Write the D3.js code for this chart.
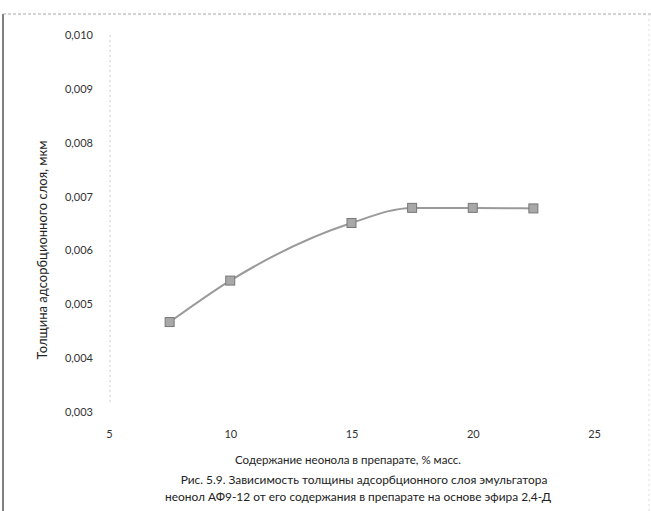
<!DOCTYPE html>
<html><head><meta charset="utf-8">
<script src="https://cdn.jsdelivr.net/npm/d3@7"></script>
<style>body{margin:0;background:#fff}svg{display:block}</style>
</head><body>
<script>
const contentPct = [7.5, 10, 15, 17.5, 20, 22.5];
const thickness = [0.00467, 0.00544, 0.00651, 0.00679, 0.00679, 0.00678];
const xTicks = [5, 10, 15, 20, 25];
const yTicks = [0.003, 0.004, 0.005, 0.006, 0.007, 0.008, 0.009, 0.010];
const yTitle = "Толщина адсорбционного слоя, мкм";
const xTitle = "Содержание неонола в препарате, % масс.";
const caption = ["Рис. 5.9. Зависимость толщины адсорбционного слоя эмульгатора",
                 "неонол АФ9-12 от его содержания в препарате на основе эфира 2,4-Д"];
const captionCenters = [364, 358];

const W = 651, H = 511;
const svg = d3.select("body").append("svg").attr("width", W).attr("height", H);
const font = "Lato, 'Open Sans', sans-serif";

// frame of the scanned page
svg.append("line").attr("x1", 3).attr("x2", 3).attr("y1", 14).attr("y2", H)
  .attr("stroke", "#555").attr("stroke-width", 1.5);
svg.append("line").attr("x1", 3).attr("x2", W).attr("y1", 14).attr("y2", 14)
  .attr("stroke", "#aaa").attr("stroke-width", 1).attr("stroke-dasharray", "3,2");
svg.append("line").attr("x1", 649).attr("x2", 649).attr("y1", 14).attr("y2", H)
  .attr("stroke", "#ddd").attr("stroke-width", 1).attr("stroke-dasharray", "2,3");

const x = d3.scaleLinear().domain([5, 25]).range([109, 594]);
const y = d3.scaleLinear().domain([0.003, 0.010]).range([412, 35]);

// faint y axis line
svg.append("line").attr("x1", 110).attr("x2", 110).attr("y1", y(0.010)).attr("y2", y(0.003) - 8)
  .attr("stroke", "#ccc").attr("stroke-width", 1).attr("stroke-dasharray", "2,3");

const fmt = d => d3.format(".3f")(d).replace(".", ",");
const yAxis = d3.axisLeft(y).tickValues(yTicks).tickFormat(fmt).tickSize(0).tickPadding(0);
const gy = svg.append("g").attr("transform", "translate(93,0)").call(yAxis);
gy.select(".domain").remove();
gy.selectAll("text").attr("font-family", font).attr("font-size", 11).attr("fill", "#333");

const xAxis = d3.axisBottom(x).tickValues(xTicks).tickFormat(d3.format("d")).tickSize(0).tickPadding(0);
const gx = svg.append("g").attr("transform", "translate(0,430)").call(xAxis);
gx.select(".domain").remove();
gx.selectAll("text").attr("font-family", font).attr("font-size", 11).attr("fill", "#333");

svg.append("text").attr("transform", "translate(47,250) rotate(-90)")
  .attr("text-anchor", "middle").attr("font-family", font).attr("font-size", 13)
  .attr("fill", "#222").text(yTitle);

svg.append("text").attr("x", 348).attr("y", 464).attr("text-anchor", "middle")
  .attr("font-family", font).attr("font-size", 11.5).attr("fill", "#222").text(xTitle);

caption.forEach((c, i) => {
  svg.append("text").attr("x", captionCenters[i]).attr("y", 484 + i * 17).attr("text-anchor", "middle")
    .attr("font-family", font).attr("font-size", 11.9).attr("fill", "#222").text(c);
});

const pts = contentPct.map((c, i) => [c, thickness[i]]);
const line = d3.line().x(d => x(d[0])).y(d => y(d[1])).curve(d3.curveMonotoneX);
svg.append("path").attr("d", line(pts)).attr("fill", "none")
  .attr("stroke", "#9a9a9a").attr("stroke-width", 2);

svg.selectAll("rect.m").data(pts).enter().append("rect").attr("class", "m")
  .attr("x", d => x(d[0]) - 4.5).attr("y", d => y(d[1]) - 4.5)
  .attr("width", 9).attr("height", 9)
  .attr("fill", "#a8a8a8").attr("stroke", "#777").attr("stroke-width", 1);
</script>
</body></html>
